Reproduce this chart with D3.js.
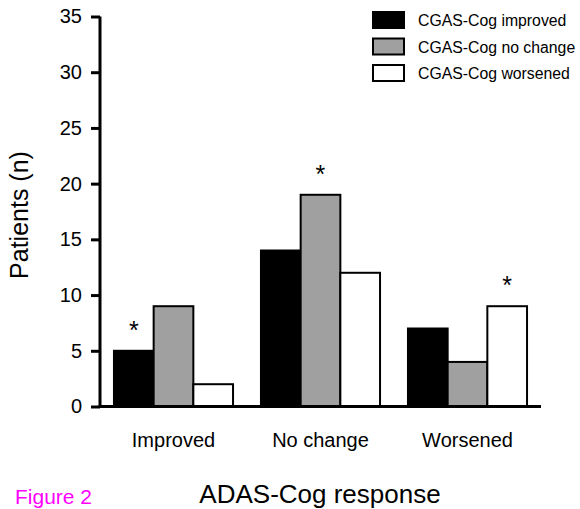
<!DOCTYPE html>
<html><head><meta charset="utf-8">
<script src="https://cdn.jsdelivr.net/npm/d3@7"></script>
<style>body{margin:0;background:#fff}svg{display:block;font-family:"Liberation Sans",Arial,sans-serif}</style>
</head><body><svg id="c" width="580" height="509"></svg>
<script>
const categories = ["Improved", "No change", "Worsened"];
const seriesNames = ["CGAS-Cog improved", "CGAS-Cog no change", "CGAS-Cog worsened"];
const improvedValues = [5, 14, 7];
const noChangeValues = [9, 19, 4];
const worsenedValues = [2, 12, 9];
const starSeries = [0, 1, 2]; // index of starred series per category
const yTicks = [0, 5, 10, 15, 20, 25, 30, 35];
const colors = ["#000000", "#a0a0a0", "#ffffff"];

const series = [improvedValues, noChangeValues, worsenedValues];
const svg = d3.select("#c");
const L = 100, R = 541, T = 16.5, B = 406.5;

const y = d3.scaleLinear().domain([0, 35]).range([B, T]);
const x0 = d3.scaleBand().domain(categories).range([L, R]).paddingInner(0.19).paddingOuter(0.095);
const x1 = d3.scaleBand().domain(d3.range(3)).range([0, x0.bandwidth()]);

const g = svg.append("g");
categories.forEach((c, ci) => {
  const gg = g.append("g").attr("transform", `translate(${x0(c)},0)`);
  series.forEach((s, si) => {
    gg.append("rect")
      .attr("x", x1(si)).attr("width", x1.bandwidth())
      .attr("y", y(s[ci])).attr("height", y(0) - y(s[ci]))
      .attr("fill", colors[si]).attr("stroke", "#000").attr("stroke-width", 2);
  });
  const si = starSeries[ci];
  gg.append("text").attr("x", x1(si) + x1.bandwidth() / 2).attr("y", y(series[si][ci]) - 12)
    .attr("text-anchor", "middle").attr("font-size", 25).text("*");
});

// y axis
const ya = svg.append("g").attr("transform", `translate(${L},0)`)
  .call(d3.axisLeft(y).tickValues(yTicks).tickSize(9).tickPadding(9));
ya.select(".domain").attr("stroke-width", 3).attr("d", `M0,${B}V${T}`);
ya.selectAll(".tick line").attr("stroke-width", 3);
ya.selectAll("text").attr("font-size", 20).attr("fill", "#000").style("font-family", "Liberation Sans, Arial, sans-serif");

// x axis
const xa = svg.append("g").attr("transform", `translate(0,${B})`)
  .call(d3.axisBottom(x0).tickSize(0).tickPadding(26));
xa.select(".domain").attr("stroke-width", 3).attr("d", `M${L - 1.5},0H${R}`);
xa.selectAll("text").attr("font-size", 20).attr("fill", "#000").style("font-family", "Liberation Sans, Arial, sans-serif");

// titles
svg.append("text").attr("transform", "translate(28,215) rotate(-90)").attr("text-anchor", "middle")
  .attr("font-size", 25).text("Patients (n)");
svg.append("text").attr("x", 320).attr("y", 503).attr("text-anchor", "middle")
  .attr("font-size", 26).text("ADAS-Cog response");
svg.append("text").attr("x", 15).attr("y", 504).attr("font-size", 21).attr("fill", "#ff00ff").text("Figure 2");

// legend
const leg = svg.append("g");
seriesNames.forEach((n, i) => {
  const yy = 12 + i * 26.5;
  leg.append("rect").attr("x", 373).attr("y", yy).attr("width", 31).attr("height", 16)
    .attr("fill", colors[i]).attr("stroke", "#000").attr("stroke-width", 2);
  leg.append("text").attr("x", 418).attr("y", yy + 14).attr("font-size", 15.8).text(n);
});
</script></body></html>
